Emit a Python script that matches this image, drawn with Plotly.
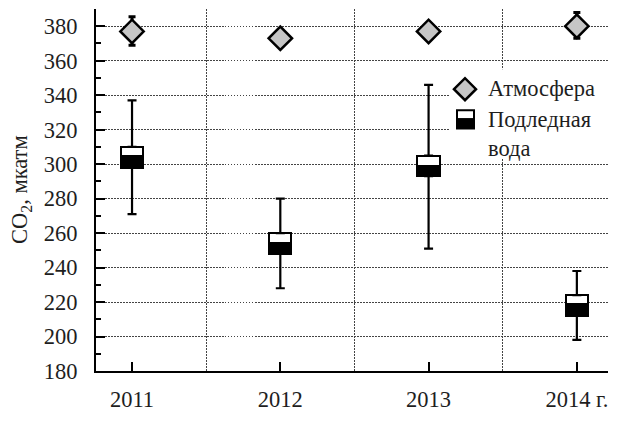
import plotly.graph_objects as go

# --- data -------------------------------------------------------------
years = [2011, 2012, 2013, 2014]
year_labels = ["2011", "2012", "2013", "2014 г."]

# atmospheric CO2 (mean and range), µatm
atm_mean = [377, 373, 377, 380]
atm_max = [385.5, 375, 379, 388]
atm_min = [369, 371, 375, 373]

# sub-ice water CO2 box statistics, µatm
water_max = [337, 280, 346, 238]
water_q3 = [310, 260, 305, 224]
water_med = [304.5, 254, 299, 219]
water_q1 = [298, 248, 293, 212]
water_min = [271, 228, 251, 198]

y_ticks = list(range(180, 381, 20))

# --- styling ----------------------------------------------------------
FONT = "Liberation Serif"
FS = 22.5
TXT = "#1e1e1e"
GRID = "#444444"
GRID_DASH = "1.5px,1.5px"
W, H = 624, 421
ML, MR, MT, MB = 96, 16, 9, 33
PW, PH = W - ML - MR, H - MT - MB


def px_x(px):
    return (px - ML) / PW


def px_y(py):
    return (H - MB - py) / PH


BOX_W = 0.15

fig = go.Figure()

# box: upper (white) and lower (black) halves
fig.add_trace(go.Bar(
    x=years, y=[q3 - m for q3, m in zip(water_q3, water_med)], base=water_med,
    width=BOX_W, marker=dict(color="white", line=dict(color="black", width=2)),
    showlegend=False,
))
fig.add_trace(go.Bar(
    x=years, y=[m - q1 for m, q1 in zip(water_med, water_q1)], base=water_q1,
    width=BOX_W, marker=dict(color="black", line=dict(color="black", width=2)),
    showlegend=False,
))

# whiskers above and below the box
fig.add_trace(go.Scatter(
    x=years, y=water_q3, mode="markers", marker=dict(size=1, opacity=0),
    error_y=dict(type="data", symmetric=False,
                 array=[hi - q3 for hi, q3 in zip(water_max, water_q3)],
                 arrayminus=[0] * len(years),
                 color="black", thickness=2.2, width=4.5),
    showlegend=False, hoverinfo="skip",
))
fig.add_trace(go.Scatter(
    x=years, y=water_q1, mode="markers", marker=dict(size=1, opacity=0),
    error_y=dict(type="data", symmetric=False,
                 array=[0] * len(years),
                 arrayminus=[q1 - lo for q1, lo in zip(water_q1, water_min)],
                 color="black", thickness=2.2, width=4.5),
    showlegend=False, hoverinfo="skip",
))

# atmosphere diamonds with ranges
fig.add_trace(go.Scatter(
    x=years, y=atm_mean, mode="markers",
    marker=dict(symbol="diamond", size=18, color="#c6c6c6",
                line=dict(color="black", width=2.5)),
    error_y=dict(type="data", symmetric=False,
                 array=[hi - m for hi, m in zip(atm_max, atm_mean)],
                 arrayminus=[m - lo for m, lo in zip(atm_mean, atm_min)],
                 color="black", thickness=3, width=3.5),
    showlegend=False,
))

# --- legend (drawn in paper coordinates) ------------------------------
shapes = [
    dict(type="rect", xref="paper", yref="paper", layer="above",
         x0=px_x(450), x1=px_x(612), y0=px_y(166), y1=px_y(72),
         fillcolor="white", line=dict(width=0)),
    dict(type="path", xref="paper", yref="paper", layer="above",
         xsizemode="pixel", ysizemode="pixel",
         xanchor=px_x(465), yanchor=px_y(93),
         path="M -11,0 L 0,11 L 11,0 L 0,-11 Z",
         fillcolor="#c6c6c6", line=dict(color="black", width=2.5)),
    dict(type="rect", xref="paper", yref="paper", layer="above",
         x0=px_x(457), x1=px_x(474), y0=px_y(124.5), y1=px_y(115),
         fillcolor="white", line=dict(color="black", width=2)),
    dict(type="rect", xref="paper", yref="paper", layer="above",
         x0=px_x(457), x1=px_x(474), y0=px_y(134), y1=px_y(124.5),
         fillcolor="black", line=dict(color="black", width=2)),
]

annotations = [
    dict(text="Атмосфера", x=px_x(486), y=px_y(92), yanchor="middle"),
    dict(text="Подледная<br>вода", x=px_x(486), y=px_y(110),
         yanchor="top", align="left"),
]
for a in annotations:
    a.update(xref="paper", yref="paper", xanchor="left",
             showarrow=False, font=dict(family=FONT, size=FS, color=TXT))

annotations.append(dict(
    text="CO<sub>2</sub>, мкатм", xref="paper", yref="paper",
    x=px_x(21), y=0.5, xanchor="center", yanchor="middle", textangle=-90,
    showarrow=False, font=dict(family=FONT, size=FS, color=TXT),
))

fig.update_layout(
    width=W, height=H,
    margin=dict(l=ML, r=MR, t=MT, b=MB, pad=0),
    paper_bgcolor="white", plot_bgcolor="white",
    barmode="overlay", bargap=0,
    font=dict(family=FONT, size=FS, color=TXT),
    shapes=shapes, annotations=annotations,
    xaxis=dict(
        range=[2010.757, 2014.21], tickmode="array",
        tickvals=years, ticktext=year_labels,
        ticks="inside", ticklen=9, tickwidth=2, tickcolor="black",
        showline=True, linecolor="black", linewidth=2,
        showgrid=False, zeroline=False, ticklabelstandoff=7,
        minor=dict(tickmode="array", tickvals=[2011.5, 2012.5, 2013.5],
                   showgrid=True, gridcolor=GRID, griddash=GRID_DASH,
                   gridwidth=1, ticks=""),
    ),
    yaxis=dict(
        range=[180, 390], tickmode="array", tickvals=y_ticks,
        ticks="inside", ticklen=9, tickwidth=2, tickcolor="black",
        showline=True, linecolor="black", linewidth=2,
        showgrid=True, gridcolor=GRID, griddash=GRID_DASH, gridwidth=1,
        zeroline=False, ticklabelstandoff=12,
        minor=dict(dtick=10, tick0=180, ticks="inside", ticklen=5,
                   tickwidth=2, tickcolor="black", showgrid=False),
    ),
)

fig.write_html("out.html")
